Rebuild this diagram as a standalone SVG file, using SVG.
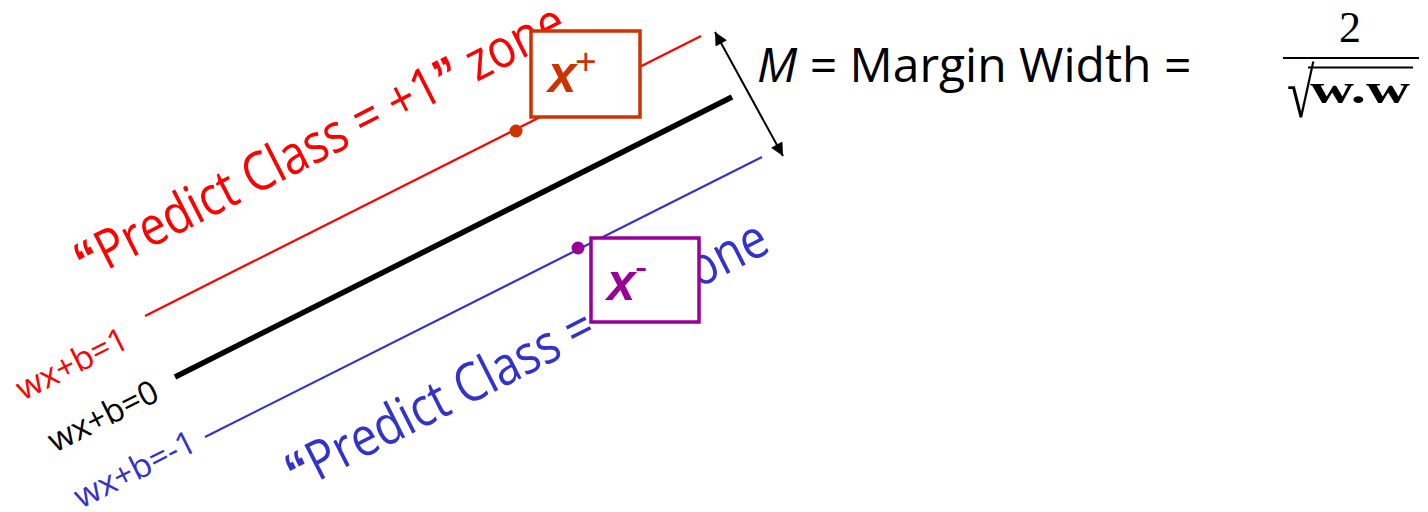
<svg xmlns="http://www.w3.org/2000/svg" width="1428" height="512" viewBox="0 0 1428 512">
<style>
.os{font-family:"Open Sans","Noto Sans",sans-serif}
.q{font-family:"Liberation Sans",Arial,sans-serif;font-weight:bold}
.red{fill:#FF0000}
.blue{fill:#3333CC}
.big{font-size:54px}
.lab{font-size:33px}
.box{fill:#ffffff;stroke-width:3.5}
.bx{font-family:"Liberation Sans",Arial,sans-serif;font-weight:bold;font-style:italic;font-size:51px}
.sup{font-family:"Liberation Sans",Arial,sans-serif;font-size:37px}
.serif{font-family:"Liberation Serif","Times New Roman",serif}
</style>
<defs>
<marker id="ah" viewBox="0 0 10 10" refX="10" refY="5" markerWidth="17" markerHeight="13" markerUnits="userSpaceOnUse" orient="auto-start-reverse">
<path d="M0,0 L10,5 L0,10 z" fill="#000000"/>
</marker>
</defs>

<g id="connectors">
<line id="plus-plane" x1="145" y1="316" x2="701" y2="36" stroke="#FF0000" stroke-width="2.2"/>
<line id="decision-boundary" x1="175" y1="377" x2="732" y2="97" stroke="#000000" stroke-width="5.5"/>
<line id="minus-plane" x1="205" y1="437" x2="762" y2="157" stroke="#3333CC" stroke-width="2.2"/>
<line id="margin-arrow" x1="715" y1="32" x2="783" y2="156" stroke="#000000" stroke-width="2" marker-start="url(#ah)" marker-end="url(#ah)"/>
</g>

<g id="zone-labels">
<text class="os big red" transform="translate(86,281) rotate(-27)" textLength="543" lengthAdjust="spacingAndGlyphs"><tspan class="q">“</tspan>Predict Class = +1<tspan class="q">”</tspan> zone</text>
<text class="os big blue" transform="translate(297,492) rotate(-26.9)" textLength="533" lengthAdjust="spacingAndGlyphs"><tspan class="q">“</tspan>Predict Class = -1<tspan class="q">”</tspan> zone</text>
</g>

<g id="plane-labels">
<text class="os lab red" transform="translate(23,401) rotate(-26.7)" textLength="121" lengthAdjust="spacingAndGlyphs">wx+b=1</text>
<text class="os lab" fill="#000000" transform="translate(55,453) rotate(-26.7)" textLength="119" lengthAdjust="spacingAndGlyphs">wx+b=0</text>
<text class="os lab blue" transform="translate(81,509) rotate(-26.7)" textLength="132" lengthAdjust="spacingAndGlyphs">wx+b=-1</text>
</g>

<g id="support-points">
<circle cx="516" cy="131" r="6.5" fill="#CC3300"/>
<circle cx="578" cy="248" r="6.5" fill="#990099"/>
</g>

<g id="xplus">
<rect class="box" x="531" y="31" width="109" height="86" stroke="#CC3300"/>
<text class="bx" x="548" y="92" fill="#CC3300">x</text>
<text class="sup" x="575" y="74" fill="#CC3300">+</text>
</g>

<g id="xminus">
<rect class="box" x="591" y="238" width="108" height="84" stroke="#990099"/>
<text class="bx" x="607" y="300" fill="#990099">x</text>
<text class="sup" x="635" y="279" fill="#990099">-</text>
</g>

<g id="margin-label">
<text class="os" font-size="48" x="757" y="82" fill="#000000"><tspan font-style="italic">M</tspan> = Margin Width =</text>
</g>

<g id="formula">
<text class="serif" font-size="44" x="1350" y="42" text-anchor="middle" fill="#000000">2</text>
<line x1="1283" y1="58" x2="1419" y2="58" stroke="#000000" stroke-width="2"/>
<text class="serif" font-size="50" transform="translate(1287,117) scale(1,1.4)" fill="#000000">√</text>
<line x1="1308" y1="67.5" x2="1413" y2="67.5" stroke="#000000" stroke-width="1.8"/>
<text class="serif" font-weight="bold" font-size="43" x="1310" y="103" textLength="100" lengthAdjust="spacingAndGlyphs" fill="#000000">w.w</text>
</g>
</svg>
